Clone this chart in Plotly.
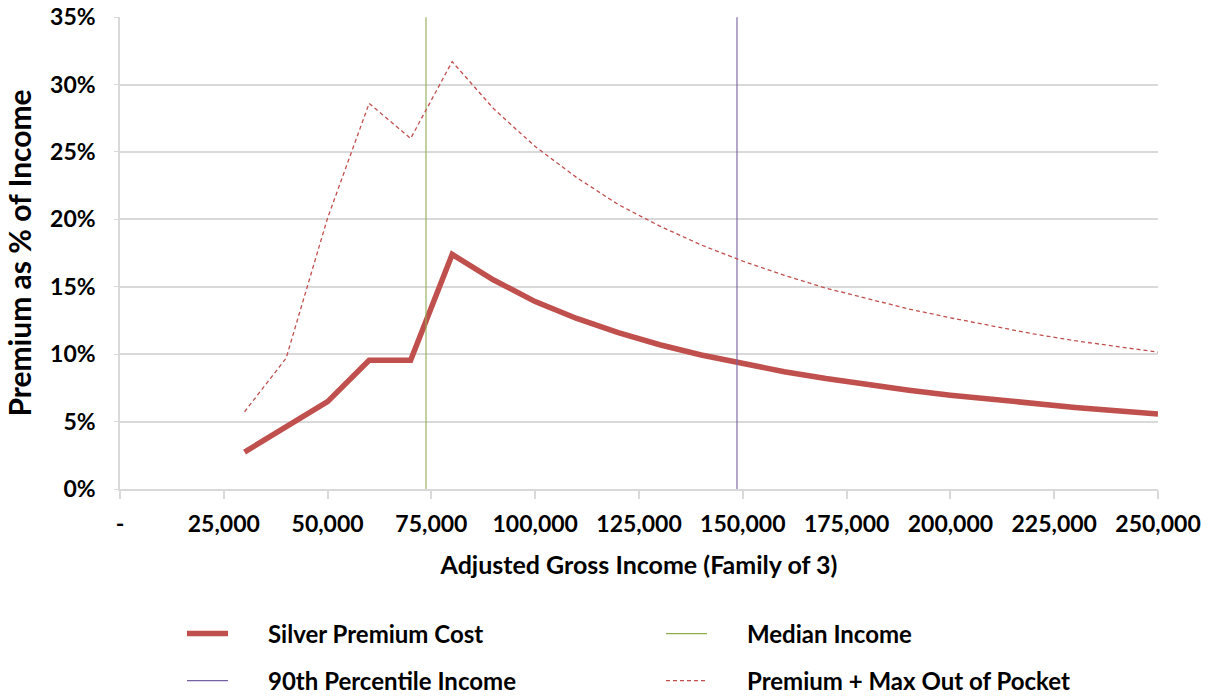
import plotly.graph_objects as go

# ---- data ----
income = [30000, 40000, 50000, 60000, 70000, 80000, 90000, 100000, 110000, 120000,
          130000, 140000, 150000, 160000, 170000, 180000, 190000, 200000, 210000,
          220000, 230000, 240000, 250000]
silver_premium = [0.0274, 0.046, 0.0648, 0.0955, 0.0955, 0.1740, 0.1550, 0.1390, 0.1265,
                  0.1160, 0.1070, 0.0994, 0.0928, 0.0870, 0.0819, 0.0773, 0.0733,
                  0.0696, 0.0663, 0.0633, 0.0605, 0.0580, 0.0557]
premium_plus_oop = [0.0573, 0.0970, 0.2010, 0.2860, 0.2600, 0.3170, 0.2820, 0.2540,
                    0.2310, 0.2110, 0.1950, 0.1810, 0.1690, 0.1585, 0.1490, 0.1410,
                    0.1335, 0.1270, 0.1210, 0.1150, 0.1100, 0.1060, 0.1015]
median_income = 73700
p90_income = 148600
y_span = [0.0, 0.35]

x_tick_vals = [0, 25000, 50000, 75000, 100000, 125000, 150000, 175000, 200000, 225000, 250000]
x_tick_text = ["-", "25,000", "50,000", "75,000", "100,000", "125,000", "150,000",
               "175,000", "200,000", "225,000", "250,000"]
y_tick_vals = [0, 0.05, 0.10, 0.15, 0.20, 0.25, 0.30, 0.35]

FONT = "Lato"
pad = "\u00a0" * 6

W, H = 1213, 698

fig = go.Figure()
fig.add_trace(go.Scatter(x=income, y=silver_premium, mode="lines",
                         name=pad + "Silver Premium Cost",
                         line=dict(color="#C0504D", width=5.5), legend="legend"))
fig.add_trace(go.Scatter(x=[median_income, median_income], y=y_span, mode="lines",
                         name=pad + "Median Income",
                         line=dict(color="#8FAE4F", width=1.1), legend="legend"))
fig.add_trace(go.Scatter(x=[p90_income, p90_income], y=y_span, mode="lines",
                         name=pad + "90th Percentile Income",
                         line=dict(color="#7560A0", width=1.1), legend="legend2"))
fig.add_trace(go.Scatter(x=income, y=premium_plus_oop, mode="lines",
                         name=pad + "Premium + Max Out of Pocket",
                         line=dict(color="#C0504D", width=1.3, dash="4px,3px"),
                         legend="legend2"))

leg_common = dict(orientation="h", xanchor="left", yanchor="middle",
                  xref="container", yref="container",
                  entrywidth=423, entrywidthmode="pixels", itemwidth=41,
                  font=dict(family=FONT, size=24, color="black", weight="bold"),
                  bgcolor="rgba(0,0,0,0)", itemclick=False, itemdoubleclick=False)

fig.update_layout(
    width=W, height=H,
    margin=dict(l=120, r=55, t=17, b=209, autoexpand=False),
    paper_bgcolor="white", plot_bgcolor="white",
    font=dict(family=FONT, color="black"),
    showlegend=True,
    hovermode=False,
    legend=dict(x=182 / W, y=1 - 634 / H, **leg_common),
    legend2=dict(x=182 / W, y=1 - 681 / H, **leg_common),
)

fig.update_xaxes(
    range=[0, 250000], tickvals=x_tick_vals, ticktext=x_tick_text,
    showgrid=False, zeroline=False, automargin=False,
    showline=True, linecolor="#D9D9D9", linewidth=1.5,
    ticks="outside", ticklen=8, tickcolor="#D9D9D9", tickwidth=1.5,
    ticklabelstandoff=6,
    tickfont=dict(family=FONT, size=23, color="black", weight="bold"),
    title=dict(text="Adjusted Gross Income (Family of 3)", standoff=20,
               font=dict(family=FONT, size=25, color="black", weight="bold")),
)
fig.update_yaxes(
    range=[0, 0.3501], tickvals=y_tick_vals, tickformat=".0%",
    showgrid=True, gridcolor="#D9D9D9", gridwidth=1.5, zeroline=False, automargin=False,
    showline=True, linecolor="#D9D9D9", linewidth=1.5,
    ticks="outside", ticklen=4, tickcolor="#D9D9D9",
    ticklabelstandoff=14, ticklabeloverflow="allow",
    tickfont=dict(family=FONT, size=23, color="black", weight="bold"),
    title=dict(text="Premium as % of Income", standoff=10,
               font=dict(family=FONT, size=30, color="black", weight="bold")),
)

fig.write_html("out.html",
               config={"displayModeBar": False},
               post_script="document.body.style.margin='0px';document.body.style.overflow='hidden';")
